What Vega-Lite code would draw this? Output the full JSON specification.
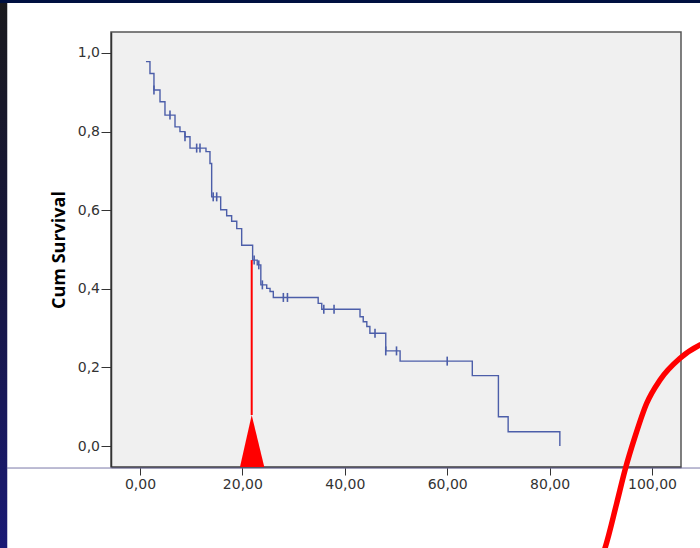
{
  "$schema": "https://vega.github.io/schema/vega-lite/v6.json",
  "width": 570,
  "height": 435,
  "autosize": {"type": "none"},
  "padding": {"left": 111, "top": 32, "right": 19, "bottom": 81},
  "background": "white",
  "config": {"view": {"fill": "#f0f0f0", "stroke": "#555555", "strokeWidth": 1.5}},
  "datasets": {
    "km": [
      {"t": 1.17, "s": 0.978}, {"t": 1.95, "s": 0.948}, {"t": 2.73, "s": 0.906},
      {"t": 3.91, "s": 0.876}, {"t": 4.88, "s": 0.842}, {"t": 6.84, "s": 0.812},
      {"t": 7.81, "s": 0.8}, {"t": 8.79, "s": 0.787}, {"t": 9.77, "s": 0.758},
      {"t": 12.89, "s": 0.749}, {"t": 13.67, "s": 0.719}, {"t": 14.0, "s": 0.634},
      {"t": 15.76, "s": 0.601}, {"t": 16.93, "s": 0.586}, {"t": 17.9, "s": 0.572},
      {"t": 18.9, "s": 0.553}, {"t": 19.86, "s": 0.511}, {"t": 22.0, "s": 0.473},
      {"t": 22.9, "s": 0.461}, {"t": 23.6, "s": 0.41}, {"t": 24.75, "s": 0.401},
      {"t": 25.4, "s": 0.393}, {"t": 26.04, "s": 0.378}, {"t": 34.8, "s": 0.363},
      {"t": 35.5, "s": 0.348}, {"t": 42.97, "s": 0.329}, {"t": 43.6, "s": 0.316},
      {"t": 44.3, "s": 0.304}, {"t": 44.9, "s": 0.287}, {"t": 48.0, "s": 0.242},
      {"t": 50.8, "s": 0.216}, {"t": 64.9, "s": 0.179}, {"t": 70.0, "s": 0.0746},
      {"t": 71.9, "s": 0.0364}, {"t": 82.0, "s": 0.0}
    ],
    "censored": [
      {"t": 2.73, "s": 0.906}, {"t": 5.86, "s": 0.842}, {"t": 8.79, "s": 0.787},
      {"t": 11.07, "s": 0.758}, {"t": 11.72, "s": 0.758}, {"t": 14.3, "s": 0.634},
      {"t": 14.98, "s": 0.634}, {"t": 22.3, "s": 0.473}, {"t": 23.2, "s": 0.461},
      {"t": 23.9, "s": 0.41}, {"t": 28.0, "s": 0.378}, {"t": 28.8, "s": 0.378},
      {"t": 35.9, "s": 0.348}, {"t": 37.9, "s": 0.348}, {"t": 45.9, "s": 0.287},
      {"t": 48.0, "s": 0.242}, {"t": 50.1, "s": 0.242}, {"t": 60.0, "s": 0.216}
    ],
    "marker": [{"t": 21.82, "s": 0.0789, "s2": 0.473}],
    "triangle": [
      {"t": 19.53, "s": -0.0534, "s2": -0.0534},
      {"t": 21.82, "s": 0.0789, "s2": -0.0534},
      {"t": 24.28, "s": -0.0534, "s2": -0.0534}
    ],
    "stroke": [
      {"t": 90.0, "s": -0.29}, {"t": 90.82, "s": -0.2595}, {"t": 93.1, "s": -0.1458},
      {"t": 94.73, "s": -0.0611}, {"t": 96.68, "s": 0.0237}, {"t": 98.96, "s": 0.1087},
      {"t": 101.56, "s": 0.168}, {"t": 105.47, "s": 0.2232}, {"t": 109.375, "s": 0.257},
      {"t": 113.3, "s": 0.275}
    ],
    "frame": [
      {"t": -30, "t2": -25.92, "s": -0.3, "s2": 1.2}
    ],
    "topband": [
      {"t": -30, "t2": 115, "s": 1.1272, "s2": 1.2}
    ],
    "baseline": [{"t": -26, "t2": 115, "s": -0.056}]
  },
  "encoding": {
    "x": {
      "field": "t", "type": "quantitative",
      "scale": {"domain": [-5.66, 105.66], "nice": false, "zero": false},
      "axis": {
        "values": [0, 20, 40, 60, 80, 100],
        "labelExpr": "replace(format(datum.value, '.2f'), '.', ',')",
        "title": null, "grid": false, "labelFlush": false,
        "tickSize": 8, "tickColor": "#333333", "domainColor": "#333333", "domainWidth": 1.5,
        "labelFont": "DejaVu Sans", "labelFontSize": 14, "labelColor": "#333333", "labelPadding": 2
      }
    },
    "y": {
      "field": "s", "type": "quantitative",
      "scale": {"domain": [-0.0534, 1.0534], "nice": false, "zero": false},
      "axis": {
        "values": [0, 0.2, 0.4, 0.6, 0.8, 1.0],
        "labelExpr": "replace(format(datum.value, '.1f'), '.', ',')",
        "title": "Cum Survival", "grid": false, "labelFlush": false,
        "titleFont": "Open Sans", "titleFontWeight": "bold", "titleFontSize": 18, "titleColor": "#000000",
        "titlePadding": 9,
        "tickSize": 10, "tickColor": "#333333", "domainColor": "#333333", "domainWidth": 1.5,
        "labelFont": "DejaVu Sans", "labelFontSize": 14, "labelColor": "#333333", "labelPadding": 1.5
      }
    }
  },
  "layer": [
    {
      "data": {"name": "km"},
      "mark": {"type": "line", "interpolate": "step-after", "color": "#4c5ea9", "strokeWidth": 1.4}
    },
    {
      "data": {"name": "censored"},
      "mark": {"type": "point", "shape": "M0,-1L0,1", "filled": false, "color": "#4c5ea9", "strokeWidth": 1.6, "size": 81, "opacity": 1}
    },
    {
      "data": {"name": "marker"},
      "mark": {"type": "rule", "color": "#ff0000", "strokeWidth": 2},
      "encoding": {"y2": {"field": "s2"}}
    },
    {
      "data": {"name": "triangle"},
      "mark": {"type": "area", "color": "#ff0000", "opacity": 1},
      "encoding": {"y2": {"field": "s2"}}
    },
    {
      "data": {"name": "frame"},
      "mark": {"type": "rect", "clip": false, "color": {"gradient": "linear", "x1": 0, "y1": 0, "x2": 0, "y2": 1, "stops": [{"offset": 0, "color": "#1a1a1a"}, {"offset": 0.45, "color": "#16163a"}, {"offset": 1, "color": "#1a1a78"}]}},
      "encoding": {"x2": {"field": "t2"}, "y2": {"field": "s2"}}
    },
    {
      "data": {"name": "topband"},
      "mark": {"type": "rect", "clip": false, "color": "#001040"},
      "encoding": {"x2": {"field": "t2"}, "y2": {"field": "s2"}}
    },
    {
      "data": {"name": "baseline"},
      "mark": {"type": "rule", "clip": false, "color": "#7a78a8", "strokeWidth": 1},
      "encoding": {"x2": {"field": "t2"}}
    },
    {
      "data": {"name": "stroke"},
      "mark": {"type": "line", "clip": false, "interpolate": "monotone", "color": "#ff0000", "strokeWidth": 5.5, "strokeCap": "round"}
    }
  ]
}
